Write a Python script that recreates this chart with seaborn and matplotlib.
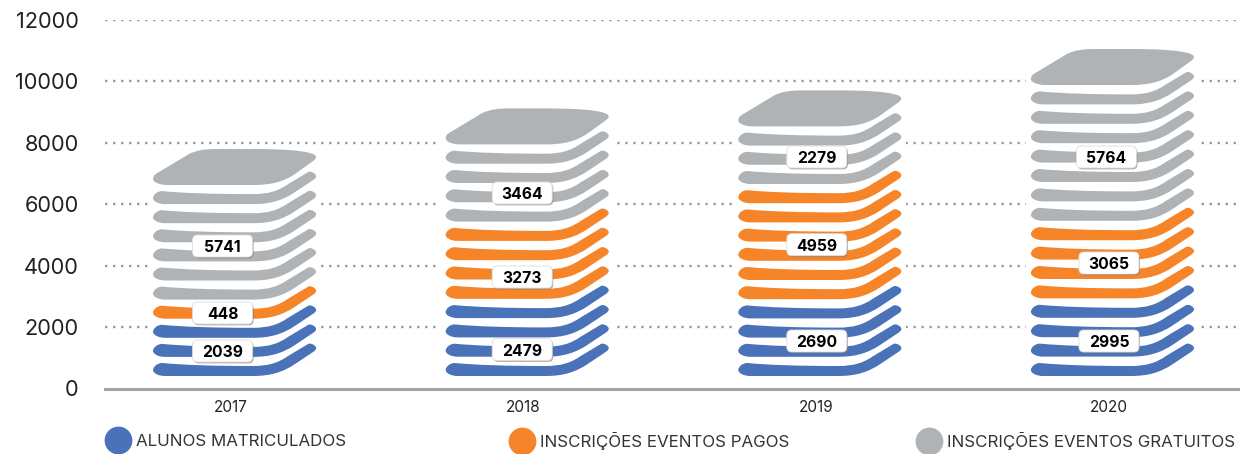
import matplotlib
matplotlib.use("Agg")
import matplotlib.pyplot as plt
import seaborn as sns
import pandas as pd
from matplotlib.path import Path
from matplotlib.patches import PathPatch, FancyBboxPatch
from matplotlib.lines import Line2D
from matplotlib.transforms import IdentityTransform
import matplotlib.patheffects as pe

years = ["2017", "2018", "2019", "2020"]
series = ["ALUNOS MATRICULADOS", "INSCRIÇÕES EVENTOS PAGOS", "INSCRIÇÕES EVENTOS GRATUITOS"]
alunos = [2039, 2479, 2690, 2995]
pagos = [448, 3273, 4959, 3065]
gratuitos = [5741, 3464, 2279, 5764]
# pictogram: number of thin slabs per series (the grey one also gets a thick cap)
slabs_alunos = [3, 4, 4, 4]
slabs_pagos = [1, 4, 6, 4]
slabs_gratuitos = [6, 4, 3, 7]
# height (axis units) of the centre of each value label
label_level_alunos = [1221, 1270, 1547, 1547]
label_level_pagos = [2459, 3631, 4683, 4087]
label_level_gratuitos = [4640, 6367, 7539, 7539]
# horizontal nudge of the labels, px
label_dx_alunos = [-8.5, -1.5, 0.5, 0]
label_dx_pagos = [-8.5, -1.5, 0.5, 0]
label_dx_gratuitos = [-8.5, -1.5, 0.5, -2.5]
# pitch of the slabs in each stack, px
slab_pitch_px = [19.1, 19.3, 19.2, 19.4]

colors = dict(zip(series, ["#4a72b8", "#f68428", "#b0b3b5"]))
FONT = "Inter"
W, H = 1240, 454
AX_L, AX_R, AX_T, AX_B = 105, 1239, 20, 388.5
PX_PER_UNIT = (AX_B - AX_T) / 12000
SLAB_BASE = 12.5 / PX_PER_UNIT
SLAB_W_PX = 163
SPACING = 292.5
SHIFT = 3.5 / SPACING

M, L, C, Z = Path.MOVETO, Path.LINETO, Path.CURVE4, Path.CLOSEPOLY
# glyph outlines, in px relative to the slab's lower-left corner
THIN = [(M, (12, 0)), (L, (100, 0)),
        (C, (118, 0)), (C, (130, 4)), (C, (142, 12)),
        (L, (160, 24)),
        (C, (163, 26)), (C, (164, 28)), (C, (162, 30)),
        (C, (160, 32)), (C, (157, 33)), (C, (155, 32)),
        (L, (135, 20)),
        (C, (125, 13)), (C, (115, 10)), (C, (100, 10)),
        (C, (60, 10)), (C, (30, 11)), (C, (9, 13)),
        (C, (4, 13)), (C, (0, 9)), (C, (0, 6)),
        (C, (0, 3)), (C, (5, 0)), (C, (12, 0)), (Z, (12, 0))]
CAP = [(M, (14, 0)), (L, (100, 0)),
       (C, (118, 0)), (C, (130, 3)), (C, (142, 11)),
       (L, (160, 24)),
       (C, (164, 27)), (C, (164, 29)), (C, (160, 31)),
       (C, (150, 35)), (C, (125, 36)), (C, (100, 36)),
       (L, (65, 36)),
       (C, (52, 36)), (C, (44, 35)), (C, (36, 31)),
       (L, (6, 13)),
       (C, (2, 11)), (C, (0, 9)), (C, (0, 6)),
       (C, (0, 3)), (C, (6, 0)), (C, (14, 0)), (Z, (14, 0))]

rows = []
for i, y in enumerate(years):
    level = 0
    step = slab_pitch_px[i] / PX_PER_UNIT
    for name, n in zip(series, (slabs_alunos[i], slabs_pagos[i], slabs_gratuitos[i])):
        for _ in range(n):
            rows.append(dict(year=y, slab=level, series=name, base=SLAB_BASE + level * step, cap=False))
            level += 1
    rows.append(dict(year=y, slab=level, series=series[2], base=SLAB_BASE + level * step, cap=True))
df = pd.DataFrame(rows)
tops = df[df.cap].assign(top=lambda d: d.base + 36 / PX_PER_UNIT)

sns.set_theme(style="white")
plt.rcParams["font.family"] = [FONT, "DejaVu Sans"]
fig = plt.figure(figsize=(W / 100, H / 100), dpi=100)
ax = fig.add_axes([AX_L / W, 1 - AX_B / H, (AX_R - AX_L) / W, (AX_B - AX_T) / H])
ax.set_ylim(0, 12000)

# white backing bars interrupt the dotted grid behind each stack
BAR_W = 173 / SPACING
sns.barplot(data=tops, x="year", y="top", order=years, color="white", width=BAR_W,
            errorbar=None, saturation=1, ax=ax, zorder=2)
for r in ax.patches:
    r.set_x(r.get_x() + SHIFT)
    r.set_linewidth(0)

# one seaborn bar per slab; its place on the scales positions the slab glyph
n_before = len(ax.patches)
for level, part in df.groupby("slab"):
    sns.barplot(data=part, x="year", y="base", order=years, hue="series", hue_order=series,
                palette=colors, dodge=False, width=SLAB_W_PX / SPACING, errorbar=None,
                saturation=1, legend=False, ax=ax, zorder=1)
bars = [p for p in ax.patches[n_before:] if p.get_height() > 0]
for bar in bars:
    bar.set_visible(False)
    cx = bar.get_x() + bar.get_width() / 2 + SHIFT
    base = bar.get_height()
    row = df[(df.year == years[round(cx)]) & (abs(df.base - base) < 1)].iloc[0]
    verts = CAP if row.cap else THIN
    pts = [(cx - bar.get_width() / 2 + x / SLAB_W_PX * bar.get_width(), base + y / PX_PER_UNIT) for _, (x, y) in verts]
    ax.add_patch(PathPatch(Path(pts, [c for c, _ in verts]), fc=bar.get_facecolor(), ec="none", zorder=3, clip_on=False))

ax.set_xlim(-(231 - AX_L) / SPACING, 3 + (AX_R - 1109) / SPACING)
ax.set_xlabel("")
ax.set_ylabel("")
ax.set_yticks(range(0, 12001, 2000))
ax.tick_params(axis="y", length=0, pad=19, labelsize=15.7, labelcolor="#222222")
ax.tick_params(axis="x", length=0, pad=8, labelsize=11, labelcolor="#222222")
for s in ("top", "right", "left"):
    ax.spines[s].set_visible(False)
ax.spines["bottom"].set_color("#a3a3a3")
ax.spines["bottom"].set_linewidth(2.2)
ax.spines["bottom"].set_position(("outward", 0.5))
ax.spines["bottom"].set_zorder(5)
ax.yaxis.grid(True, color="#9a9a9a", linewidth=1.7, linestyle=(0, (1, 2.39)), zorder=0)
ax.set_axisbelow(True)
for line in ax.get_ygridlines()[:1]:
    line.set_visible(False)

# value labels
fig.canvas.draw()
for i, y in enumerate(years):
    for val, lvl, dx in ((alunos[i], label_level_alunos[i], label_dx_alunos[i]),
                         (pagos[i], label_level_pagos[i], label_dx_pagos[i]),
                         (gratuitos[i], label_level_gratuitos[i], label_dx_gratuitos[i])):
        px, py = ax.transData.transform((i, lvl))
        px += dx
        box = FancyBboxPatch((px - 27, py - 8), 54, 16, boxstyle="round,pad=3,rounding_size=5",
                             fc="white", ec="#dddddd", lw=0.6, transform=IdentityTransform(),
                             zorder=6, clip_on=False)
        box.set_path_effects([pe.SimplePatchShadow(offset=(0.8, -1), shadow_rgbFace="#777777", alpha=0.6), pe.Normal()])
        ax.add_artist(box)
        ax.annotate(str(val), (px, py), xycoords=IdentityTransform(), ha="center", va="center_baseline",
                    fontsize=11.3, fontweight="bold", color="black", zorder=7, annotation_clip=False)

# legend entries sit in equal-width columns
for name, x in zip(series, (107, 511, 918)):
    h = Line2D([], [], marker="o", linestyle="none", color=colors[name], markersize=19, label=name)
    fig.legend(handles=[h], loc="center left", bbox_to_anchor=(x / W, 1 - 441 / H), frameon=False,
               borderpad=0, borderaxespad=0, handlelength=1.3, handletextpad=0.41,
               prop={"family": FONT, "size": 12.2}, labelcolor="#333333")

fig.savefig("out.png", dpi=100, facecolor="white")
